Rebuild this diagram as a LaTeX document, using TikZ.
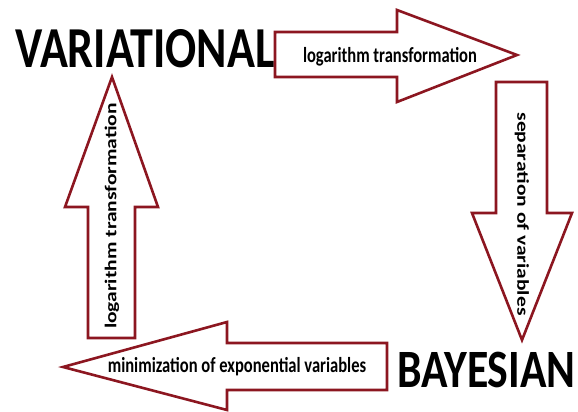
\documentclass[tikz,border=0pt]{standalone}
\usepackage{fontspec}
\setmainfont{Carlito}
\usetikzlibrary{positioning}
\definecolor{arrowred}{RGB}{140,22,32}

\begin{document}
\begin{tikzpicture}[
  x=1pt, y=-1pt,
  method/.style = {inner sep=0pt, font=\fontsize{58}{58}\selectfont\bfseries},
  block/.style  = {draw=arrowred, line width=2.6pt, line join=miter, fill=white},
  label/.style  = {inner sep=0pt, font=\fontsize{21.5}{22}\selectfont\bfseries}
]
\useasboundingbox (0,0) rectangle (578,412);

%--------------------------------------------------
% the two methods
%--------------------------------------------------
\node[method, anchor=base west] (variational) at (15,67)
  {\scalebox{0.795}[1]{VARIATIONAL}};
\node[method, anchor=base west, font=\fontsize{54}{54}\selectfont\bfseries] (bayesian) at (397,387)
  {\scalebox{0.81}[1]{BAYESIAN}};

%--------------------------------------------------
% block arrows
%--------------------------------------------------
% top: to the right
\draw[block] (275,32) -- (397,32) -- (397,10) -- (517,55)
  -- (397,102) -- (397,77) -- (275,77) -- cycle;
% right: downwards
\draw[block] (496,82) -- (547,82) -- (547,213) -- (572,213)
  -- (522,340) -- (472,213) -- (496,213) -- cycle;
% bottom: to the left
\draw[block] (387,343) -- (227,343) -- (227,322) -- (63,367)
  -- (227,410) -- (227,390) -- (387,390) -- cycle;
% left: upwards
\draw[block] (88,338) -- (88,207) -- (65,207) -- (112,77)
  -- (158,207) -- (135,207) -- (135,338) -- cycle;

%--------------------------------------------------
% labels (squeezed across, as the whole picture)
%--------------------------------------------------
\node[label] (t_log_top) at (390,57)
  {\scalebox{0.77}[1]{logarithm transformation}};
\node[label, rotate=-90] (t_separation) at (522,214)
  {\scalebox{1}[0.77]{separation of variables}};
\node[label] (t_minimization) at (237,367)
  {\scalebox{0.77}[1]{minimization of exponential variables}};
\node[label, rotate=90] (t_log_left) at (112,216)
  {\scalebox{1}[0.77]{logarithm transformation}};

\end{tikzpicture}
\end{document}
